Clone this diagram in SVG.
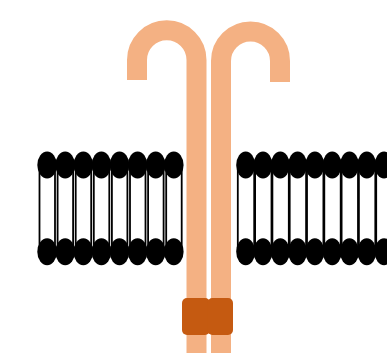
<svg xmlns="http://www.w3.org/2000/svg" xmlns:xlink="http://www.w3.org/1999/xlink" width="387" height="353" viewBox="0 0 387 353">
<style>
.tail{stroke:#000;stroke-width:1.8;}
.head{fill:#000;}
.strand{fill:none;stroke:#F4B183;stroke-width:20;stroke-linecap:butt;}
.box{fill:#C55A11;}
</style>
<defs>
<g id="lipidL">
<line class="tail" x1="1.5" y1="165" x2="1.5" y2="252"/>
<line class="tail" x1="17" y1="165" x2="17" y2="252"/>
<ellipse class="head" cx="9.1" cy="165" rx="9.8" ry="13.4"/>
<ellipse class="head" cx="9.1" cy="251.7" rx="9.8" ry="13.5"/>
</g>
<g id="lipidR">
<line class="tail" x1="0.8" y1="165" x2="0.8" y2="252"/>
<line class="tail" x1="17.2" y1="165" x2="17.2" y2="252"/>
<ellipse class="head" cx="8.7" cy="165" rx="9.5" ry="13.4"/>
<ellipse class="head" cx="8.7" cy="251.7" rx="9.5" ry="13.5"/>
</g>
</defs>
<rect width="387" height="353" fill="#fff"/>
<g id="membrane-left">
<use xlink:href="#lipidL" x="38"/>
<use xlink:href="#lipidL" x="56.1"/>
<use xlink:href="#lipidL" x="74.2"/>
<use xlink:href="#lipidL" x="92.3"/>
<use xlink:href="#lipidL" x="110.4"/>
<use xlink:href="#lipidL" x="128.5"/>
<use xlink:href="#lipidL" x="146.6"/>
<use xlink:href="#lipidL" x="164.7"/>
</g>
<g id="membrane-right">
<use xlink:href="#lipidR" x="237"/>
<use xlink:href="#lipidR" x="254.3"/>
<use xlink:href="#lipidR" x="271.6"/>
<use xlink:href="#lipidR" x="288.9"/>
<use xlink:href="#lipidR" x="306.2"/>
<use xlink:href="#lipidR" x="323.5"/>
<use xlink:href="#lipidR" x="340.8"/>
<use xlink:href="#lipidR" x="358.1"/>
<use xlink:href="#lipidR" x="375.4"/>
</g>
<g id="receptor-left">
<path class="strand" d="M196.5 353 V60 A29.75 29.75 0 0 0 137 60 V80"/>
</g>
<g id="receptor-right">
<path class="strand" d="M221 353 V61 A29.5 29.5 0 0 1 280 61 V82"/>
</g>
<g id="kinase-domains">
<rect class="box" x="182" y="298" width="28" height="37" rx="5"/>
<rect class="box" x="207.5" y="298" width="25.5" height="37" rx="5"/>
</g>
</svg>
